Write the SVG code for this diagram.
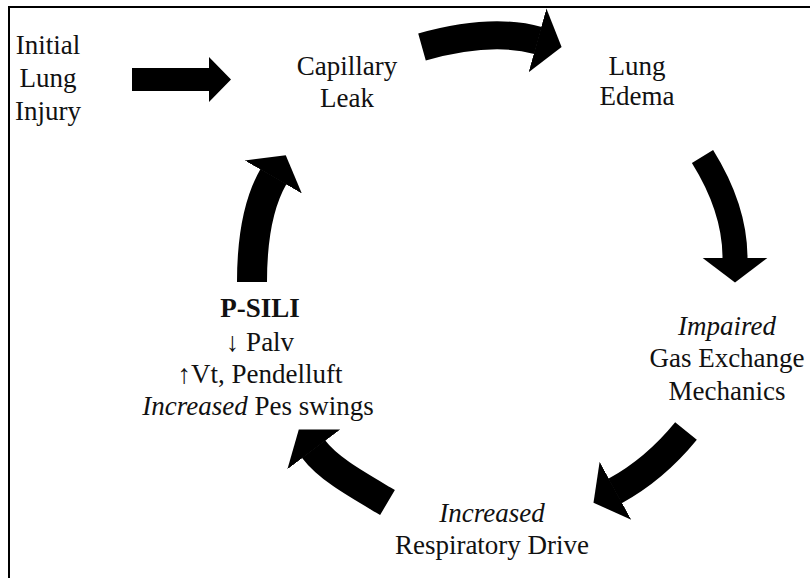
<svg xmlns="http://www.w3.org/2000/svg" width="810" height="578" viewBox="0 0 810 578">
  <style>
    .arc { fill: none; stroke: #000; stroke-linecap: butt; }
  </style>
  <defs>
    <marker id="head" markerUnits="userSpaceOnUse" viewBox="0 -34 27 68" markerWidth="27" markerHeight="68" refX="0.5" refY="0" orient="auto">
      <path d="M0,-33 L25,0 L0,33 Z" fill="#000"/>
    </marker>
  </defs>
  <rect width="810" height="578" fill="#fff"/>
  <path d="M9,578 V7 H810" fill="none" stroke="#000" stroke-width="2"/>

  <g id="connectors">
    <polygon id="arrow-initial" points="132,68 209,68 209,57 231,79.5 209,102 209,91 132,91" fill="#000"/>
    <path id="arrow-top" class="arc" stroke-width="28" d="M422,47 Q491.4,27.5 538,40.5" marker-end="url(#head)"/>
    <path id="arrow-right" class="arc" stroke-width="25" d="M702.5,156.5 Q735,208.6 735,258" marker-end="url(#head)"/>
    <path id="arrow-lowright" class="arc" stroke-width="28" d="M686,431 Q654.6,469.4 615,491" marker-end="url(#head)"/>
    <path id="arrow-lowleft" class="arc" stroke-width="29" d="M387.5,502.5 C357.4,484.7 328.5,469 313.5,449" marker-end="url(#head)"/>
    <path id="arrow-left" class="arc" stroke-width="30" d="M252,282 Q252,213.7 273.5,176.5" marker-end="url(#head)"/>
  </g>

  <g font-family="Liberation Serif" font-size="27" fill="#111" text-anchor="middle">
  <g id="node-initial">
    <text x="48" y="54">Initial</text>
    <text x="48" y="87">Lung</text>
    <text x="48" y="120">Injury</text>
  </g>
  <g id="node-capillary">
    <text x="347" y="75">Capillary</text>
    <text x="347" y="107">Leak</text>
  </g>
  <g id="node-edema">
    <text x="637" y="75">Lung</text>
    <text x="637" y="105">Edema</text>
  </g>
  <g id="node-gas">
    <text x="727" y="335" font-style="italic">Impaired</text>
    <text x="727" y="367">Gas Exchange</text>
    <text x="727" y="400">Mechanics</text>
  </g>
  <g id="node-drive">
    <text x="492" y="522" font-style="italic">Increased</text>
    <text x="492" y="554">Respiratory Drive</text>
  </g>
  <g id="node-psili">
    <text x="260" y="317" font-weight="bold">P-SILI</text>
    <text x="260" y="351">&#8595; Palv</text>
    <text x="260" y="383">&#8593;Vt, Pendelluft</text>
    <text x="258" y="415"><tspan font-style="italic">Increased</tspan> Pes swings</text>
  </g>
  </g>
</svg>
